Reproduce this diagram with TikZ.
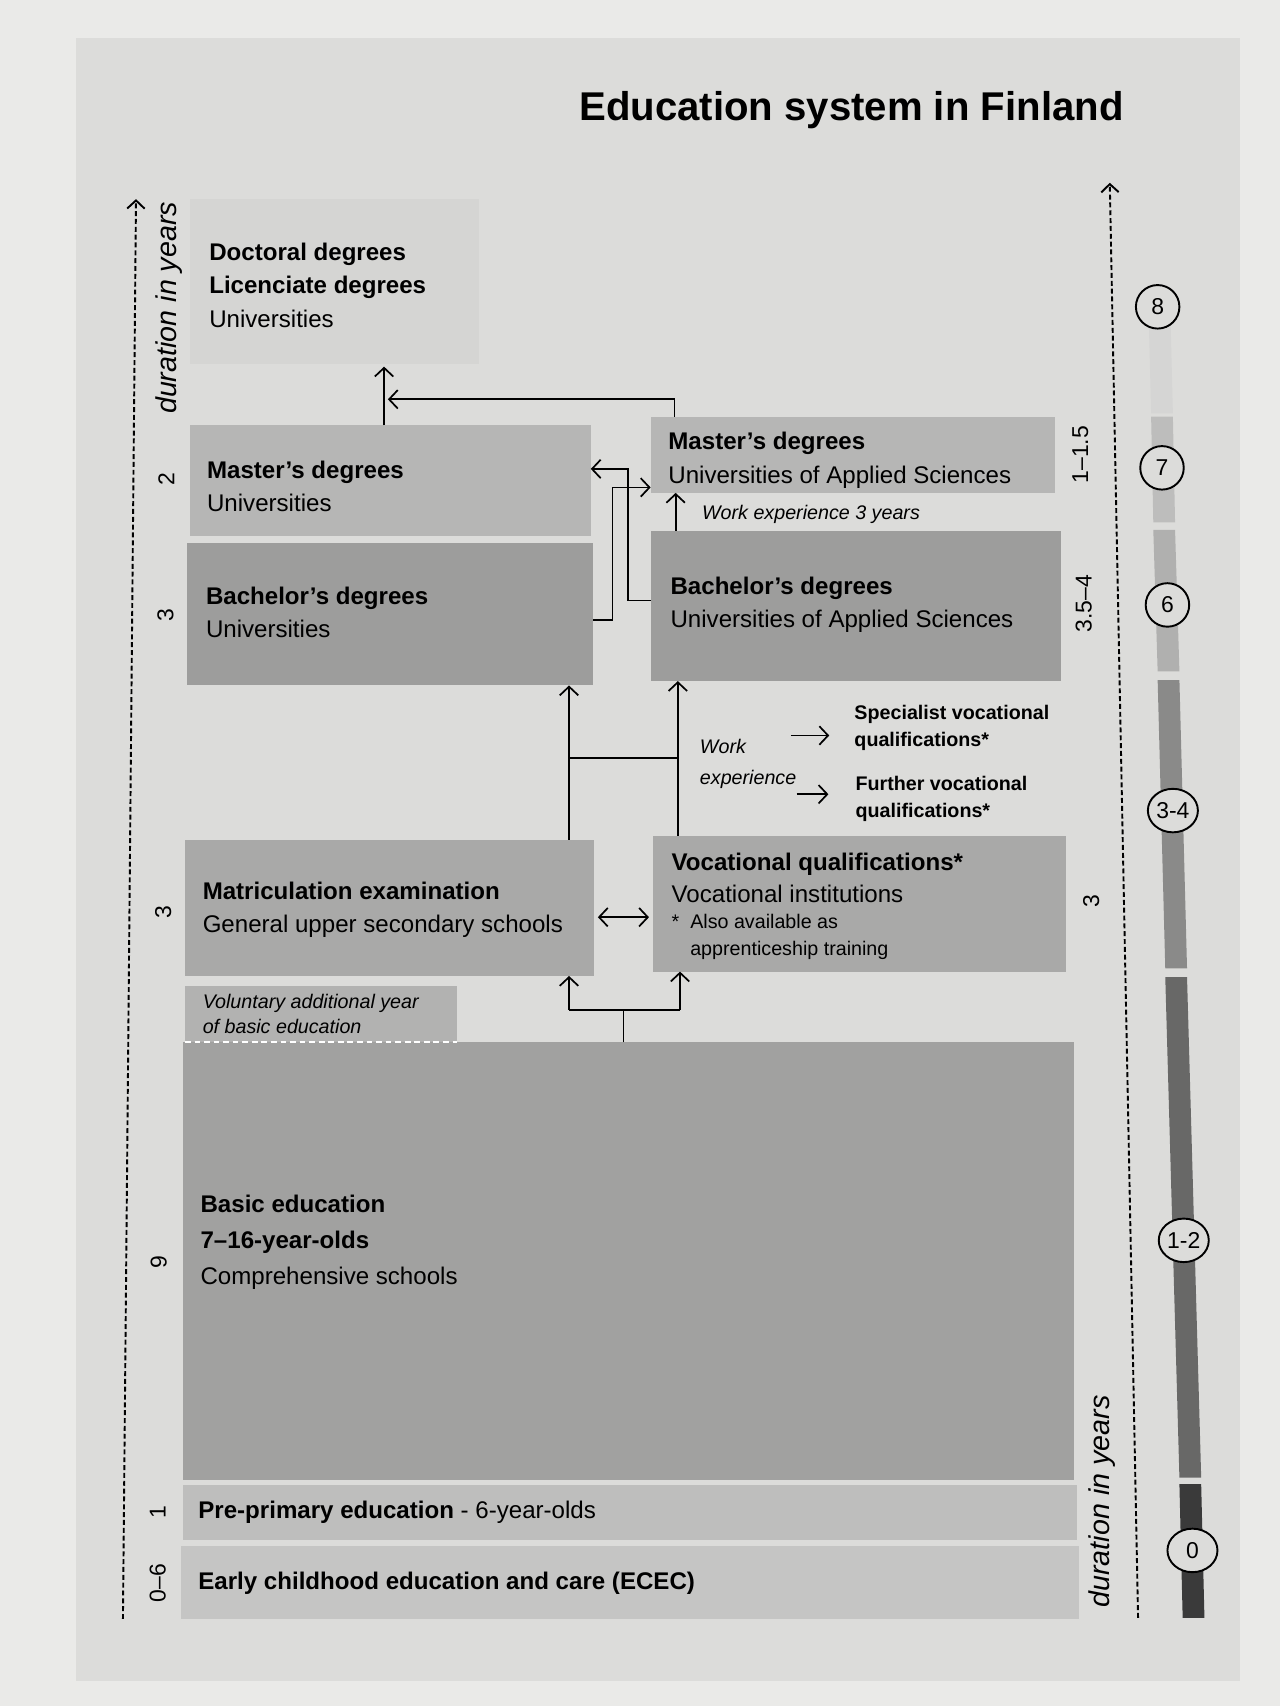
\documentclass[tikz,border=0pt]{standalone}
\usepackage{fontspec}
\setmainfont{Liberation Sans}
\usetikzlibrary{arrows.meta,fit,shapes.geometric}
\definecolor{paper}{HTML}{EAEAE8}
\definecolor{page}{HTML}{DCDCDA}
\definecolor{docfill}{HTML}{D5D5D3}
\definecolor{mastfill}{HTML}{B6B6B5}
\definecolor{bachfill}{HTML}{9D9D9C}
\definecolor{secfill}{HTML}{A9A9A8}
\definecolor{volfill}{HTML}{B2B2B1}
\definecolor{basicfill}{HTML}{A1A1A0}
\definecolor{prefill}{HTML}{BEBEBD}
\definecolor{ecfill}{HTML}{C5C5C4}
\definecolor{lvA}{HTML}{D5D5D4}
\definecolor{lvB}{HTML}{BDBDBC}
\definecolor{lvC}{HTML}{B0B0AF}
\definecolor{lvD}{HTML}{8A8A89}
\definecolor{lvE}{HTML}{686867}
\definecolor{lvF}{HTML}{3A3A3A}
\begin{document}
\begin{tikzpicture}[x=0.02cm, y=-0.02cm,
  box/.style={inner sep=0pt, outer sep=0pt, draw=none},
  lbl/.style={anchor=west, align=left, inner sep=0pt, font=\fontsize{12.6}{17.5}\selectfont},
  small/.style={anchor=west, align=left, inner sep=0pt, font=\fontsize{10.3}{14.5}\selectfont},
  years/.style={rotate=90, inner sep=0pt, font=\fontsize{12}{14}\selectfont},
  axislbl/.style={rotate=90, inner sep=0pt, font=\fontsize{15}{17}\selectfont\itshape},
  arr/.style={-{Straight Barb[length=1.6mm,width=3.4mm]}, line width=0.9pt},
  arrboth/.style={{Straight Barb[length=1.6mm,width=3.4mm]}-{Straight Barb[length=1.6mm,width=3.4mm]}, line width=0.9pt},
  link/.style={line width=0.9pt},
  axis/.style={dash pattern=on 2.6pt off 1.5pt, line width=1pt, -{Straight Barb[length=1.5mm,width=3.2mm]}},
  level/.style={circle, draw, line width=1pt, fill=page, minimum size=0.8cm, inner sep=0pt, font=\fontsize{12}{14}\selectfont},
  levelw/.style={level, ellipse, minimum width=0.92cm, minimum height=0.8cm}]

\useasboundingbox (0,0) rectangle (1176,1568);
\fill[paper] (0,0) rectangle (1176,1568);
\fill[page] (70,35) rectangle (1140,1545);

\node[anchor=east, inner sep=0pt, font=\fontsize{21}{25}\selectfont\bfseries] (title) at (1033,101) {Education system in Finland};

\node[box, fill=docfill, fit={(175,183) (440,335)}] (doc) {};
\node[box, fill=mastfill, fit={(175,391) (543,493)}] (mU) {};
\node[box, fill=bachfill, fit={(172,499) (545,630)}] (bU) {};
\node[box, fill=mastfill, fit={(598,383) (970,453)}] (mA) {};
\node[box, fill=bachfill, fit={(598,488) (975,626)}] (bA) {};
\node[box, fill=secfill, fit={(170,772) (546,897)}] (matric) {};
\node[box, fill=secfill, fit={(600,768) (980,893)}] (voc) {};
\node[box, fill=volfill, fit={(170,906) (420,958)}] (vol) {};
\node[box, fill=basicfill, fit={(168,958) (987,1360)}] (basic) {};
\node[box, fill=prefill, fit={(168,1365) (990,1415)}] (pre) {};
\node[box, fill=ecfill, fit={(166,1421) (992,1488)}] (ecec) {};
\draw[white, line width=1.2pt, dash pattern=on 3pt off 2pt] (vol.south west) -- (vol.south east);

\node[lbl] (tdoc) at (192,262) {\textbf{Doctoral degrees}\\\textbf{Licenciate degrees}\\Universities};
\node[lbl] (tmU) at (190,447) {\textbf{Master's degrees}\\Universities};
\node[lbl] (tbU) at (189,563) {\textbf{Bachelor's degrees}\\Universities};
\node[lbl] (tmA) at (614,423) {\textbf{Master's degrees}\\Universities of Applied Sciences};
\node[lbl] (tbA) at (616,556) {\textbf{Bachelor's degrees}\\Universities of Applied Sciences};
\node[lbl] (tmatric) at (186,836) {\textbf{Matriculation examination}\\General upper secondary schools};
\node[lbl, font=\fontsize{12.6}{16.5}\selectfont] (tvoc) at (617,807) {\textbf{Vocational qualifications*}\\Vocational institutions};
\node[small] (tnote) at (617,861) {*\ \ Also available as\\\hphantom{*\ \ }apprenticeship training};
\node[small, font=\fontsize{10.3}{13.5}\selectfont\itshape] (tvol) at (186,932) {Voluntary additional year\\of basic education};
\node[lbl, font=\fontsize{12.6}{18.8}\selectfont] (tbasic) at (184,1142) {\textbf{Basic education}\\\textbf{7--16-year-olds}\\Comprehensive schools};
\node[lbl] (tpre) at (182,1390) {\textbf{Pre-primary education} - 6-year-olds};
\node[lbl] (tecec) at (182,1455) {\textbf{Early childhood education and care (ECEC)}};

\node[small, font=\fontsize{10.3}{13}\selectfont\itshape] (wexp) at (645,473) {Work experience 3 years};
\node[small, font=\fontsize{10.3}{16}\selectfont\itshape] (work) at (643,702) {Work\\experience};
\node[small, font=\fontsize{10.3}{14.2}\selectfont\bfseries] (spec) at (785,669) {Specialist vocational\\qualifications*};
\node[small, font=\fontsize{10.3}{14.2}\selectfont\bfseries] (furth) at (786,734) {Further vocational\\qualifications*};

\coordinate (kD) at (353,337);
\coordinate (kM) at (620,367);
\draw[arr] (kD |- mU.north) -- (kD);
\draw[arr] (kM |- mA.north) -- (kM) -- ([xshift=2]kM -| kD);

\coordinate (kL1) at (577,552);
\coordinate (kL2) at (577,431);
\draw[arr] (kL1 -| bA.west) -- (kL1) -- (kL2) -- (kL2 -| mU.east);
\coordinate (kR1) at (563,570);
\coordinate (kR2) at (563,448);
\draw[arr] (kR1 -| bU.east) -- (kR1) -- (kR2) -- (kR2 -| mA.west);
\coordinate (kW) at (621,470);
\draw[arr] (kW |- bA.north) -- (kW |- mA.south);

\coordinate (kU1) at (523,697);
\coordinate (kU2) at (623,697);
\draw[arr] (kU1 |- matric.north) -- (kU1 |- bU.south);
\draw[arr] (kU2 |- voc.north) -- (kU2 |- bA.south);
\draw[link] (kU1) -- (kU2);

\draw[arr] (727,676) -- ([xshift=-13]spec.west |- 0,676);
\draw[arr] (work.east |- 0,730) -- ([xshift=-14]furth.west |- 0,730);

\coordinate (kX) at (572,843);
\draw[arrboth] ([xshift=2]kX -| matric.east) -- ([xshift=-2]kX -| voc.west);

\coordinate (kB) at (573,928);
\coordinate (kB1) at (523,928);
\coordinate (kB2) at (625,928);
\draw[link] (kB |- basic.north) -- (kB);
\draw[link] (kB1) -- (kB2);
\draw[arr] (kB1) -- (kB1 |- matric.south);
\draw[arr] (kB2) -- (kB2 |- voc.south);

\coordinate (lA) at (113,1488);
\coordinate (lB) at (125,183);
\draw[axis] (lA) -- (lB);
\coordinate (rA) at (1046,1487);
\coordinate (rB) at (1020,168);
\draw[axis] (rA) -- (rB);

\node[axislbl] (ldur) at (155,283) {duration in years};
\node[axislbl] (rdur) at (1013,1380) {duration in years};
\node[years] (y1) at (153,440) {2};
\node[years] (y2) at (152,565) {3};
\node[years] (y3) at (150,838) {3};
\node[years] (y4) at (146,1160) {9};
\node[years] (y5) at (145,1390) {1};
\node[years] (y6) at (145,1455) {0--6};
\node[years] (y7) at (993,418) {1--1.5};
\node[years] (y8) at (996,555) {3.5--4};
\node[years] (y9) at (1003,828) {3};

\foreach \ya/\yb/\xa/\xb/\c in {300/380/1066/1068/lvA, 383/480/1068/1070/lvB, 487/617/1070/1074/lvC, 625/890/1074/1081/lvD, 898/1358/1081/1094/lvE, 1364/1487/1094/1097/lvF}
  \fill[\c] (\xa-10,\ya) -- (\xa+10,\ya) -- (\xb+10,\yb) -- (\xb-10,\yb) -- cycle;

\node[level] (l8) at (1064,282) {8};
\node[level] (l7) at (1068,430) {7};
\node[level] (l6) at (1073,556) {6};
\node[levelw] (l34) at (1078,745) {3-4};
\node[levelw] (l12) at (1088,1140) {1-2};
\node[levelw] (l0) at (1096,1425) {0};
\end{tikzpicture}
\end{document}
